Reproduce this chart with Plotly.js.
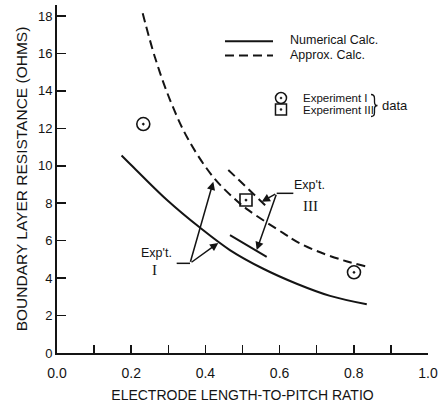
<!DOCTYPE html>
<html>
<head>
<meta charset="utf-8">
<script src="https://cdn.plot.ly/plotly-3.0.1.min.js"></script>
<style>
  html, body { margin: 0; padding: 0; background: #fff; }
  #chart { width: 439px; height: 407px; }
</style>
</head>
<body>
<div id="chart"></div>
<script>
// Boundary layer resistance vs electrode length-to-pitch ratio

// Numerical calculation (solid curve)
const numX = [0.174, 0.197, 0.295, 0.385, 0.466, 0.556, 0.646, 0.736, 0.835];
const numY = [10.55, 10.1, 8.2, 6.7, 5.5, 4.5, 3.7, 3.05, 2.6];

// Approximate calculation (dashed curve)
const apxX = [0.231, 0.264, 0.305, 0.354, 0.421, 0.475, 0.511, 0.61, 0.646, 0.70, 0.772, 0.838];
const apxY = [18.15, 15.8, 13.5, 11.4, 9.4, 8.3, 7.7, 6.4, 5.95, 5.45, 4.95, 4.6];

// Experiment I data points
const exp1X = [0.2326, 0.8005];
const exp1Y = [12.23, 4.31];

// Experiment III data point
const exp3X = [0.5094];
const exp3Y = [8.17];

// Experiment III band: upper (dashed) and lower (solid) bounds
const band3UpX = [0.4617, 0.5652];
const band3UpY = [9.78, 7.82];
const band3LoX = [0.4663, 0.5652];
const band3LoY = [6.30, 5.13];

// Callout pointers: [tailX, tailY, headX, headY]
const calloutI = [[0.3585, 4.79, 0.4213, 9.15], [0.3585, 4.79, 0.4348, 5.88]];
const calloutIII = [[0.5922, 8.53, 0.5518, 8.08], [0.5922, 8.53, 0.5383, 5.50]];
// Leader stubs under the callout labels: [x0, x1, y]
const leaderI = [0.3226, 0.3585, 4.79];
const leaderIII = [0.5922, 0.637, 8.53];

const xTickVals = [0, 0.2, 0.4, 0.6, 0.8, 1.0];
const xTickText = ['0.0', '0.2', '0.4', '0.6', '0.8', '1.0'];
const xMinorVals = [0.1, 0.3, 0.5, 0.7, 0.9];
const yTickVals = [0, 2, 4, 6, 8, 10, 12, 14, 16, 18];

const INK = '#141414';
const SANS = 'Liberation Sans, Arial, sans-serif';
const NARROW = 'Liberation Sans Narrow, Arial Narrow, Liberation Sans, sans-serif';
const SERIF = 'Liberation Serif, Times New Roman, serif';

// plot-area geometry, used to place legend decorations in paper units
const M = { l: 57, r: 11, t: 5, b: 54 }, W = 439, H = 407;
const PW = W - M.l - M.r, PH = H - M.t - M.b;
const px = (x) => ((x - M.l) / PW).toFixed(4);
const py = (y) => ((H - M.b - y) / PH).toFixed(4);
function path(points) {
  // points: list of [cmd, x, y, ...] in page pixels
  return points.map(p => p[0] + ' ' + p.slice(1).map((v, i) => i % 2 === 0 ? px(v) : py(v)).join(' ')).join(' ');
}

const traces = [
  { x: numX, y: numY, mode: 'lines', line: { color: INK, width: 2, shape: 'spline', smoothing: 1 }, hoverinfo: 'skip' },
  { x: apxX, y: apxY, mode: 'lines', line: { color: INK, width: 2, dash: '9px,5px', shape: 'spline', smoothing: 1 }, hoverinfo: 'skip' },
  { x: band3UpX, y: band3UpY, mode: 'lines', line: { color: INK, width: 2, dash: '9px,5px' }, hoverinfo: 'skip' },
  { x: band3LoX, y: band3LoY, mode: 'lines', line: { color: INK, width: 2 }, hoverinfo: 'skip' },
  { x: exp1X, y: exp1Y, mode: 'markers', marker: { symbol: 'circle-open-dot', size: 13, color: INK, line: { width: 1.6, color: INK } }, hoverinfo: 'skip' },
  { x: exp3X, y: exp3Y, mode: 'markers', marker: { symbol: 'square-open-dot', size: 12, color: INK, line: { width: 1.6, color: INK } }, hoverinfo: 'skip' }
];

function arrow(c) {
  return {
    x: c[2], y: c[3], ax: c[0], ay: c[1], xref: 'x', yref: 'y', axref: 'x', ayref: 'y',
    showarrow: true, arrowhead: 2, arrowsize: 1.1, arrowwidth: 1.5, arrowcolor: INK, text: ''
  };
}
function label(x, y, text, xref, yref, size, family, xanchor) {
  return { x: x, y: y, xref: xref, yref: yref, text: text, showarrow: false,
           xanchor: xanchor || 'center', yanchor: 'middle', font: { size: size, family: family, color: INK } };
}

const annotations = [
  ...calloutI.map(arrow),
  ...calloutIII.map(arrow),
  label(0.2695, 5.35, "Exp't.", 'x', 'y', 12.5, SANS),
  label(0.264, 4.45, 'I', 'x', 'y', 15, SERIF),
  label(0.6815, 9.0, "Exp't.", 'x', 'y', 12.5, SANS),
  label(0.684, 7.85, 'III', 'x', 'y', 15, SERIF),
  // legend
  label(px(288), py(40.5), 'Numerical Calc.', 'paper', 'paper', 12.5, SANS, 'left'),
  label(px(288), py(55.5), 'Approx. Calc.', 'paper', 'paper', 12.5, SANS, 'left'),
  label(px(301), py(98), 'Experiment I', 'paper', 'paper', 11.5, NARROW, 'left'),
  label(px(301), py(109.5), 'Experiment III', 'paper', 'paper', 11.5, NARROW, 'left'),
  label(px(380), py(106), 'data', 'paper', 'paper', 13, SANS, 'left')
];

const shapes = [
  { type: 'line', xref: 'x', yref: 'y', x0: leaderI[0], x1: leaderI[1], y0: leaderI[2], y1: leaderI[2], line: { color: INK, width: 1.5 } },
  { type: 'line', xref: 'x', yref: 'y', x0: leaderIII[0], x1: leaderIII[1], y0: leaderIII[2], y1: leaderIII[2], line: { color: INK, width: 1.5 } },
  // legend samples
  { type: 'line', xref: 'paper', yref: 'paper', x0: px(225), x1: px(273), y0: py(41.3), y1: py(41.3), line: { color: INK, width: 2 } },
  { type: 'line', xref: 'paper', yref: 'paper', x0: px(225), x1: px(273), y0: py(55.5), y1: py(55.5), line: { color: INK, width: 2, dash: '9px,5px' } },
  { type: 'circle', xref: 'paper', yref: 'paper', x0: px(275.5), x1: px(286.5), y0: py(92.5), y1: py(103.5), line: { color: INK, width: 1.5 } },
  { type: 'circle', xref: 'paper', yref: 'paper', x0: px(280), x1: px(282), y0: py(97), y1: py(99), fillcolor: INK, line: { color: INK, width: 0.5 } },
  { type: 'rect', xref: 'paper', yref: 'paper', x0: px(275.5), x1: px(286.5), y0: py(104), y1: py(115), line: { color: INK, width: 1.5 } },
  { type: 'circle', xref: 'paper', yref: 'paper', x0: px(280), x1: px(282), y0: py(108.5), y1: py(110.5), fillcolor: INK, line: { color: INK, width: 0.5 } },
  // curly brace grouping the two experiment entries
  { type: 'path', xref: 'paper', yref: 'paper', line: { color: INK, width: 1.3 },
    path: path([['M', 371, 94.5], ['Q', 374.5, 94.5, 374.5, 98.5], ['L', 374.5, 102], ['Q', 374.5, 105.5, 377.5, 105.5],
                ['Q', 374.5, 105.5, 374.5, 109], ['L', 374.5, 112.5], ['Q', 374.5, 116.5, 371, 116.5]]) }
];

const layout = {
  width: W, height: H,
  margin: M,
  paper_bgcolor: '#fff', plot_bgcolor: '#fff',
  showlegend: false,
  font: { family: SANS, color: INK },
  xaxis: {
    range: [0, 1.0], showgrid: false, zeroline: false,
    showline: true, linecolor: INK, linewidth: 2,
    ticks: 'inside', ticklen: 8, tickwidth: 1.5, tickcolor: INK,
    tickvals: xTickVals, ticktext: xTickText,
    ticklabelstandoff: 6,
    tickfont: { size: 14, family: SANS, color: INK },
    minor: { tickvals: xMinorVals, ticks: 'inside', ticklen: 8, tickwidth: 1.5, tickcolor: INK },
    title: { text: 'ELECTRODE LENGTH-TO-PITCH RATIO', font: { size: 14, family: SANS, color: INK }, standoff: 10 }
  },
  yaxis: {
    range: [0, 18.59], showgrid: false, zeroline: false,
    showline: true, linecolor: INK, linewidth: 2,
    ticks: 'inside', ticklen: 9, tickwidth: 1.5, tickcolor: INK,
    tickvals: yTickVals,
    tickfont: { size: 13, family: SANS, color: INK },
    title: { text: 'BOUNDARY LAYER RESISTANCE (OHMS)', font: { size: 15.5, family: SANS, color: INK }, standoff: 7 }
  },
  annotations: annotations,
  shapes: shapes
};

Plotly.newPlot('chart', traces, layout, { staticPlot: true, displayModeBar: false });
</script>
</body>
</html>
